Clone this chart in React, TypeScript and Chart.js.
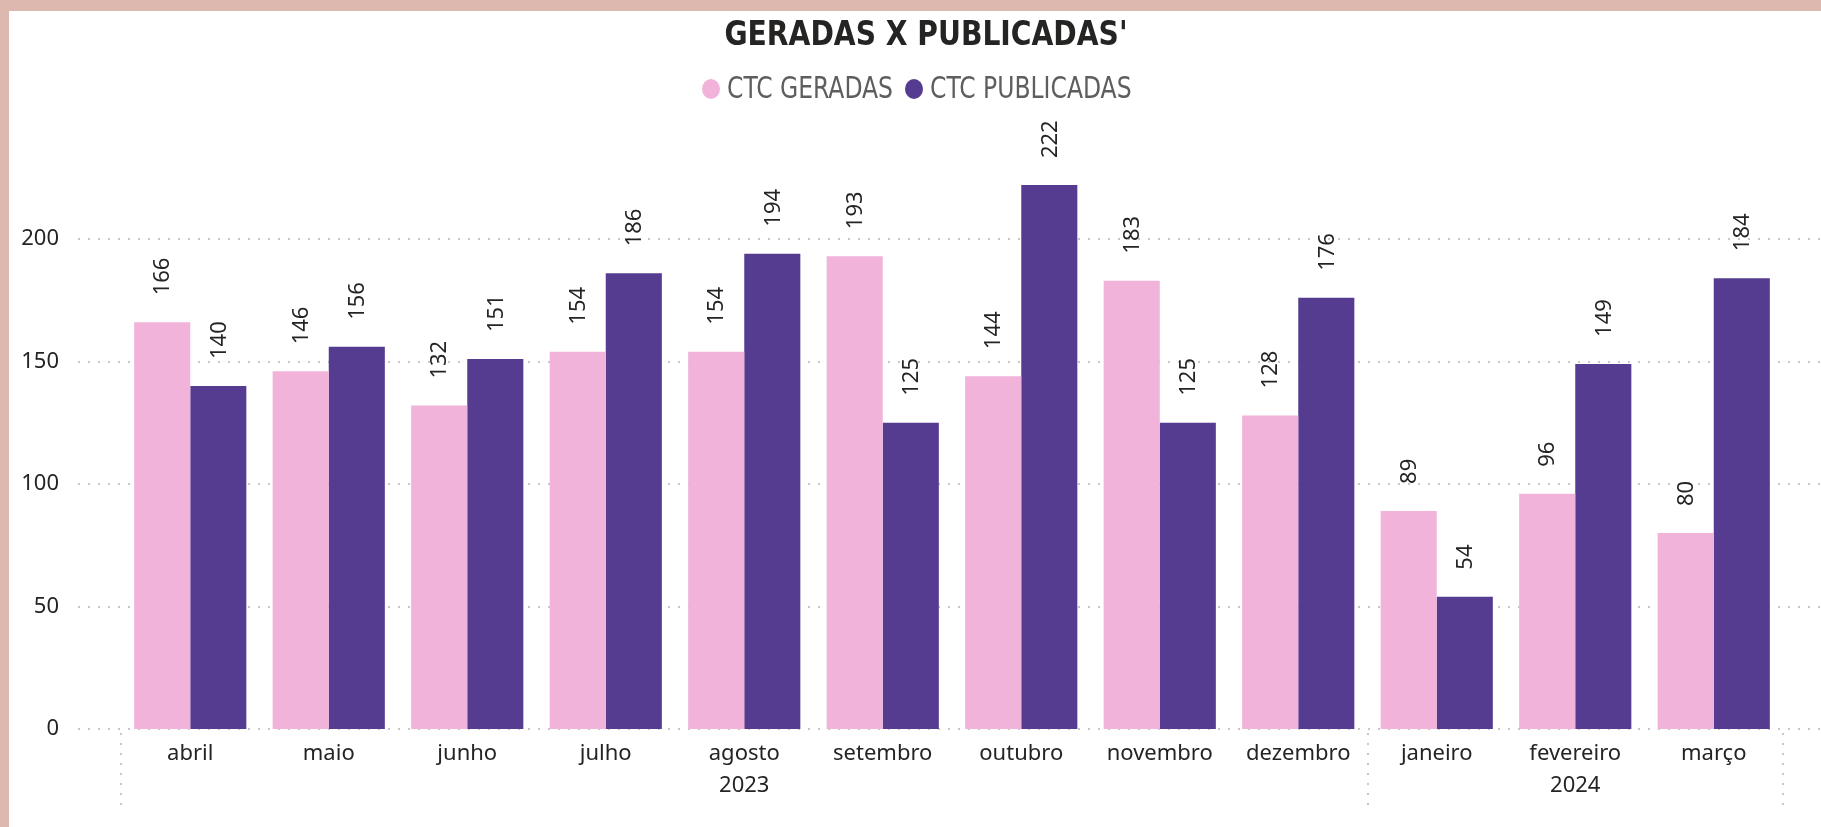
import React, { useEffect, useRef } from "react";
import { Chart, registerables } from "chart.js";

Chart.register(...registerables);

const months = ["abril", "maio", "junho", "julho", "agosto", "setembro", "outubro", "novembro", "dezembro", "janeiro", "fevereiro", "março"];
const yearGroups = [
  { label: "2023", from: 0, to: 8 },
  { label: "2024", from: 9, to: 11 },
];
const geradas = [166, 146, 132, 154, 154, 193, 144, 183, 128, 89, 96, 80];
const publicadas = [140, 156, 151, 186, 194, 125, 222, 125, 176, 54, 149, 184];
const yTicks = [0, 50, 100, 150, 200];
const seriesNames = ["CTC GERADAS", "CTC PUBLICADAS"];
const titleText = "GERADAS X PUBLICADAS'";

const PINK = "#F1B3DA";
const PURPLE = "#563C91";
const LABEL_FONT = "22px 'Noto Sans', 'Open Sans', sans-serif";
const TEXT_COLOR = "#252423";
const COND = "'Liberation Sans Narrow', 'DejaVu Sans Condensed', sans-serif";

function dottedH(ctx: CanvasRenderingContext2D, x0: number, x1: number, y: number) {
  ctx.fillStyle = "#c8c8c8";
  for (let x = x0; x <= x1; x += 10) ctx.fillRect(Math.round(x), Math.round(y) - 1, 2, 2);
}
function dottedV(ctx: CanvasRenderingContext2D, x: number, y0: number, y1: number) {
  ctx.fillStyle = "#c8c8c8";
  for (let y = y0; y <= y1; y += 10) ctx.fillRect(Math.round(x) - 1, Math.round(y), 2, 2);
}

function scaledText(ctx: CanvasRenderingContext2D, text: string, x: number, y: number, sx: number) {
  ctx.save();
  ctx.translate(x, y);
  ctx.scale(sx, 1);
  ctx.fillText(text, 0, 0);
  ctx.restore();
}

const decorPlugin = {
  id: "decor",
  beforeDatasetsDraw(chart: any) {
    const ctx = chart.ctx as CanvasRenderingContext2D;
    const y = chart.scales.y;
    ctx.save();
    for (const t of yTicks) {
      dottedH(ctx, 69, chart.width, y.getPixelForValue(t));
    }
    ctx.restore();
  },
  afterDraw(chart: any) {
    const ctx = chart.ctx as CanvasRenderingContext2D;
    const x = chart.scales.x;
    const y = chart.scales.y;
    const area = chart.chartArea;
    ctx.save();
    // y tick labels
    ctx.font = LABEL_FONT;
    ctx.fillStyle = TEXT_COLOR;
    ctx.textAlign = "right";
    ctx.textBaseline = "middle";
    for (const t of yTicks) ctx.fillText(String(t), 50, y.getPixelForValue(t));

    // year separators and labels
    const half = (x.getPixelForValue(1) - x.getPixelForValue(0)) / 2;
    const sepTop = area.bottom;
    const sepBottom = area.bottom + 78;
    for (const g of yearGroups) {
      const left = x.getPixelForValue(g.from) - half;
      const right = x.getPixelForValue(g.to) + half;
      dottedV(ctx, left, sepTop + 4, sepBottom);
      dottedV(ctx, right, sepTop + 4, sepBottom);
      ctx.fillStyle = TEXT_COLOR;
      ctx.font = LABEL_FONT;
      ctx.textAlign = "center";
      ctx.textBaseline = "middle";
      ctx.fillText(g.label, (left + right) / 2, area.bottom + 57);
    }

    // data labels (rotated)
    ctx.font = LABEL_FONT;
    ctx.fillStyle = TEXT_COLOR;
    ctx.textAlign = "left";
    ctx.textBaseline = "middle";
    chart.data.datasets.forEach((ds: any, di: number) => {
      const meta = chart.getDatasetMeta(di);
      meta.data.forEach((bar: any, i: number) => {
        ctx.save();
        ctx.translate(bar.x, bar.y - 27);
        ctx.rotate(-Math.PI / 2);
        ctx.fillText(String(ds.data[i]), 0, 1);
        ctx.restore();
      });
    });

    // title
    ctx.fillStyle = "#252423";
    ctx.font = "bold 33px " + COND;
    ctx.textAlign = "center";
    ctx.textBaseline = "middle";
    scaledText(ctx, titleText, 917, 25, 0.95);

    // legend
    const colors = [PINK, PURPLE];
    const starts = [702, 905];
    ctx.font = "30px " + COND;
    ctx.textAlign = "left";
    for (let i = 0; i < seriesNames.length; i++) {
      ctx.fillStyle = colors[i];
      ctx.beginPath();
      ctx.ellipse(starts[i], 78, 9, 10, 0, 0, Math.PI * 2);
      ctx.fill();
      ctx.fillStyle = "#605E5C";
      scaledText(ctx, seriesNames[i], starts[i] + 16, 79, 0.87);
    }
    ctx.restore();
  },
};

export default function App() {
  const ref = useRef<HTMLCanvasElement | null>(null);
  useEffect(() => {
    document.body.style.margin = "0";
    const chart = new Chart(ref.current as HTMLCanvasElement, {
      type: "bar",
      data: {
        labels: months,
        datasets: [
          { label: seriesNames[0], data: geradas, backgroundColor: PINK, barPercentage: 1, categoryPercentage: 0.81 },
          { label: seriesNames[1], data: publicadas, backgroundColor: PURPLE, barPercentage: 1, categoryPercentage: 0.81 },
        ],
      },
      options: {
        animation: false,
        responsive: false,
        layout: { padding: { left: 112, right: 38, top: 130, bottom: 0 } },
        plugins: { legend: { display: false }, title: { display: false }, tooltip: { enabled: false } },
        scales: {
          x: {
            grid: { display: false },
            border: { display: false },
            ticks: {
              color: TEXT_COLOR,
              font: { family: "'Noto Sans', 'Open Sans', sans-serif", size: 22 },
              padding: 4,
              maxRotation: 0,
              autoSkip: false,
            },
            afterFit: (s: any) => {
              s.height = 98;
            },
          },
          y: {
            display: false,
            min: 0,
            max: 240,
          },
        },
      },
      plugins: [decorPlugin],
    });
    return () => chart.destroy();
  }, []);
  return (
    <div style={{ position: "absolute", left: 0, top: 0, width: 1821, height: 827, background: "#DDB8AE", overflow: "hidden" }}>
      <div style={{ position: "absolute", left: 9, top: 11, width: 1812, height: 816, background: "#fff" }}>
        <canvas ref={ref} width={1812} height={816} style={{ display: "block" }} />
      </div>
    </div>
  );
}
